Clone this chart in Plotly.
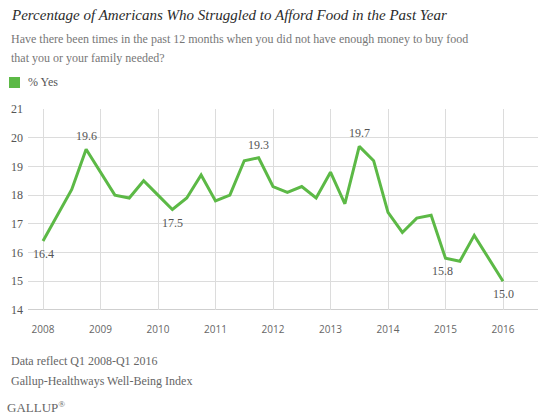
import plotly.graph_objects as go

years = [2008, 2009, 2010, 2011, 2012, 2013, 2014, 2015, 2016]
quarters = [(y, q) for y in years[:-1] for q in range(4)] + [(2016, 0)]
x_vals = [y + q / 4 for y, q in quarters]
pct_yes = [16.4, 17.3, 18.2, 19.6,
           18.8, 18.0, 17.9, 18.5,
           18.0, 17.5, 17.9, 18.7,
           17.8, 18.0, 19.2, 19.3,
           18.3, 18.1, 18.3, 17.9,
           18.8, 17.7, 19.7, 19.2,
           17.4, 16.7, 17.2, 17.3,
           15.8, 15.7, 16.6, 15.8,
           15.0]
label_idx = [0, 3, 9, 15, 22, 28, 32]
label_pos = ["below", "above", "below", "above", "above", "below", "below"]
y_ticks = [14, 15, 16, 17, 18, 19, 20, 21]
series_name = "% Yes"

GREEN = "#5cb946"
W, H = 550, 419
L, R, T, B = 28, 12, 109, 109
pw, ph = W - L - R, H - T - B


def px(xp):
    return (xp - L) / pw


def py(yp):
    return (H - B - yp) / ph


fig = go.Figure()
fig.add_trace(go.Scatter(x=x_vals, y=pct_yes, mode="lines", name=series_name,
                         line=dict(color=GREEN, width=3), showlegend=False,
                         hoverinfo="x+y"))

serif = "Liberation Serif"
annotations = []
for i, pos in zip(label_idx, label_pos):
    annotations.append(dict(
        x=x_vals[i], y=pct_yes[i], xref="x", yref="y",
        text=f"{pct_yes[i]:.1f}", showarrow=False,
        yshift=13 if pos == "above" else -13,
        xshift=-3 if i == 28 else 0,
        font=dict(family=serif, size=12, color="#555")))

annotations += [
    dict(x=px(9), y=py(15), xref="paper", yref="paper", xanchor="left", yanchor="middle",
         text="<i>Percentage of Americans Who Struggled to Afford Food in the Past Year</i>",
         showarrow=False, font=dict(family=serif, size=15, color="#2b2b2b")),
    dict(x=px(9), y=py(39), xref="paper", yref="paper", xanchor="left", yanchor="middle",
         text="Have there been times in the past 12 months when you did not have enough money to buy food",
         showarrow=False, font=dict(family=serif, size=12, color="#777")),
    dict(x=px(9), y=py(58), xref="paper", yref="paper", xanchor="left", yanchor="middle",
         text="that you or your family needed?",
         showarrow=False, font=dict(family=serif, size=12, color="#777")),
    dict(x=px(26), y=py(82), xref="paper", yref="paper", xanchor="left", yanchor="middle",
         text=series_name,
         showarrow=False, font=dict(family=serif, size=12, color="#555")),
    dict(x=px(9), y=py(361), xref="paper", yref="paper", xanchor="left", yanchor="middle",
         text="Data reflect Q1 2008-Q1 2016",
         showarrow=False, font=dict(family=serif, size=12, color="#666")),
    dict(x=px(9), y=py(381), xref="paper", yref="paper", xanchor="left", yanchor="middle",
         text="Gallup-Healthways Well-Being Index",
         showarrow=False, font=dict(family=serif, size=12, color="#666")),
    dict(x=px(5), y=py(407), xref="paper", yref="paper", xanchor="left", yanchor="middle",
         text="GALLUP<sup>&#174;</sup>",
         showarrow=False, font=dict(family=serif, size=13, color="#666")),
]

fig.update_layout(
    width=W, height=H,
    margin=dict(l=L, r=R, t=T, b=B, pad=0),
    paper_bgcolor="white", plot_bgcolor="white",
    annotations=annotations,
    showlegend=False,
    xaxis=dict(range=[2008 - 15 / 57.5, 2016 + 35 / 57.5], tickvals=years,
               ticktext=[str(y) for y in years], showgrid=True, gridcolor="#dcdcdc",
               gridwidth=1, zeroline=False, showline=False, ticks="",
               ticklabelstandoff=12,
               tickfont=dict(family="Open Sans", size=10, color="#666"),
               fixedrange=True),
    yaxis=dict(range=[14, 21], tickvals=y_ticks, showgrid=True, gridcolor="#dcdcdc",
               zeroline=False, showline=False, ticks="", ticklabelstandoff=4,
               tickfont=dict(family=serif, size=12, color="#555"), fixedrange=True),
    shapes=[
        dict(type="line", xref="paper", yref="y", x0=0, x1=1, y0=14, y1=14,
             line=dict(color="#cfcfcf", width=2), layer="below"),
        dict(type="rect", xref="paper", yref="paper", x0=px(9), x1=px(20),
             y0=py(88), y1=py(77), fillcolor=GREEN, line=dict(width=0)),
    ],
)

fig.write_html("out.html", config={"displayModeBar": False},
               post_script="document.body.style.margin='0';document.body.style.overflow='hidden';")
